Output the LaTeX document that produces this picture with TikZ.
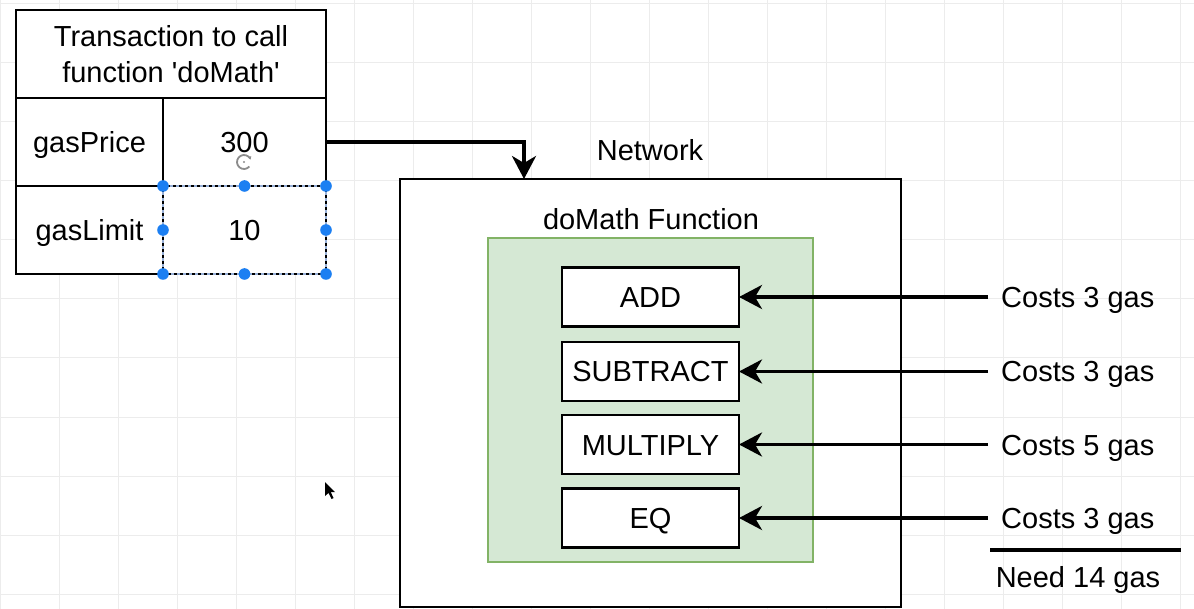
\documentclass[tikz,border=0pt]{standalone}
\usepackage{fontspec}
\setmainfont{Liberation Sans}
\usetikzlibrary{arrows.meta}
\definecolor{gridc}{RGB}{236,236,236}
\definecolor{greenfill}{RGB}{213,232,212}
\definecolor{greenline}{RGB}{130,179,102}
\definecolor{handle}{RGB}{28,127,242}
\definecolor{selgap}{RGB}{150,175,215}
\begin{document}
\begin{tikzpicture}[x=1pt,y=-1pt,
  txt/.style={font=\fontsize{29}{36}\selectfont, text height=21pt, text depth=0pt, inner sep=0pt},
  cell/.style={txt, draw, fill=white, line width=2.5pt, outer sep=0pt, minimum width=#1},
  cell/.default=147pt,
  opbox/.style={txt, draw, fill=white, line width=2.5pt, outer sep=0pt, minimum width=177pt, minimum height=59pt},
  cost/.style={txt, inner xsep=13pt, anchor=west},
  conn/.style={line width=3.5pt, -{Stealth[length=23pt,width=24pt,inset=7pt]}},
  bar/.style={line width=3.5pt}]
\useasboundingbox (0,0) rectangle (1194,609);
\fill[white] (0,0) rectangle (1194,609);
% grid
\foreach \i in {0,...,20} \draw[gridc, line width=1pt] (\i*59,0) -- (\i*59,609);
\foreach \j in {0,...,10} \draw[gridc, line width=1pt] (0,4+\j*59) -- (1194,4+\j*59);

% transaction table
\node[draw, fill=white, line width=2.5pt, outer sep=0pt, inner sep=0pt,
      minimum width=310pt, minimum height=88pt] (head) at (171,54) {};
\node[font=\fontsize{29}{36}\selectfont, align=center, inner sep=0pt] (headtxt) at (171,54)
  {Transaction to call\\function \textquotesingle doMath\textquotesingle};
\node[cell, minimum height=88pt] (gp) at (89.5,142) {gasPrice};
\node[cell=163pt, minimum height=88pt] (v300) at (244.5,142) {300};
\node[cell, minimum height=88pt] (gl) at (89.5,230) {gasLimit};
\node[cell=163pt, minimum height=88pt] (v10) at (244.5,230) {10};

% selection overlay on the gasLimit value cell
\draw[selgap, line width=1.2pt, dash pattern=on 3pt off 3pt] (163,186) rectangle (326,274);
\foreach \p in {(163,186),(244.5,186),(326,186),(163,230),(326,230),(163,274),(244.5,274),(326,274)}
  \fill[handle] \p circle (5.8);
% rotation handle
\draw[black!45, line width=1.8pt, -{Latex[length=3pt,width=4pt]}]
  (244,162) ++(40:7) arc[start angle=40, end angle=340, radius=7];
\fill[black!45] (244,162) circle (1.2);

% network
\node[draw, fill=white, line width=2.5pt, outer sep=0pt, inner sep=0pt,
      minimum width=501pt, minimum height=428pt] (net) at (650.5,393) {};
\node[txt] (netlbl) at (650,150) {Network};
\node[txt] (fnlbl) at (651,219) {doMath Function};
\node[draw=greenline, fill=greenfill, line width=2pt, outer sep=0pt, inner sep=0pt,
      minimum width=325pt, minimum height=324pt] (fn) at (650.5,400) {};

\node[opbox] (add) at (650.5,297) {ADD};
\node[opbox] (sub) at (650.5,371.5) {SUBTRACT};
\node[opbox] (mul) at (650.5,444.5) {MULTIPLY};
\node[opbox] (eq)  at (650.5,518) {EQ};

% transaction arrow
\coordinate (nettop) at (524,179);
\draw[conn] (v300.east) -| (nettop);

% costs
\node[cost] (c1) at (988,297) {Costs 3 gas};
\node[cost] (c2) at (988,371.5) {Costs 3 gas};
\node[cost] (c3) at (988,444.5) {Costs 5 gas};
\node[cost] (c4) at (988,518) {Costs 3 gas};
\draw[conn] (c1.west) -- (add.east);
\draw[conn] (c2.west) -- (sub.east);
\draw[conn] (c3.west) -- (mul.east);
\draw[conn] (c4.west) -- (eq.east);

\coordinate (s1) at (990,550);
\coordinate (s2) at (1181,550);
\draw[bar] (s1) -- (s2);
\node[txt] (need) at (1078,577) {Need 14 gas};

% mouse cursor
\fill[black] (325,482) -- (325,496) -- (328.5,493) -- (331.5,499) -- (333.5,498) -- (330.8,492.2) -- (335,492.2) -- cycle;
\end{tikzpicture}
\end{document}
